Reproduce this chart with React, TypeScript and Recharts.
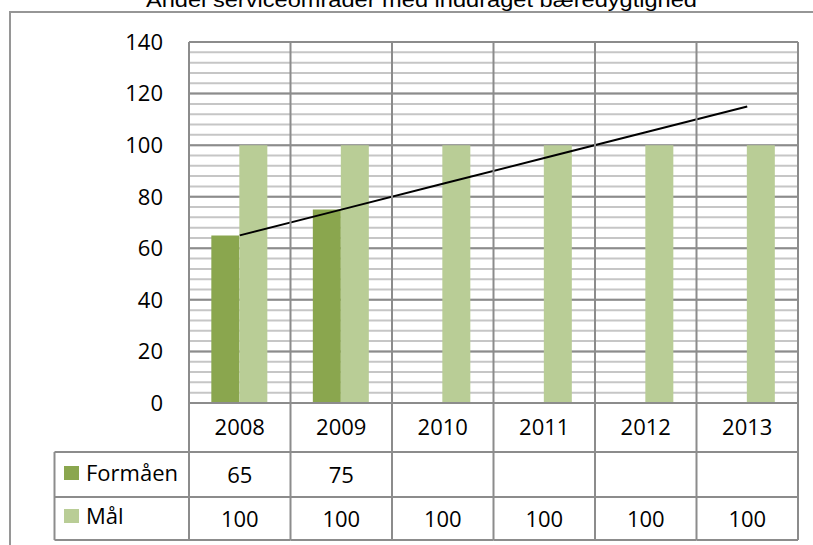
import { ComposedChart, Bar, Line, XAxis, YAxis, CartesianGrid } from "recharts";

// data
const years = ["2008", "2009", "2010", "2011", "2012", "2013"];
const formaen = [65, 75, null, null, null, null];
const maal = [100, 100, 100, 100, 100, 100];
const trend = [65, 75, 85, 95, 105, 115];
const majorTicks = [0, 20, 40, 60, 80, 100, 120, 140];
const minorTicks = [0, 4, 8, 12, 16, 20, 24, 28, 32, 36, 40, 44, 48, 52, 56, 60, 64, 68, 72, 76, 80, 84, 88, 92, 96, 100, 104, 108, 112, 116, 120, 124, 128, 132, 136, 140];

const title = "Andel serviceområder med inddraget bæredygtighed";

const W = 813;
const H = 545;
const PLOT_LEFT = 189;
const PLOT_RIGHT = 15;
const PLOT_TOP = 42;
const AXIS_H = 142;
const ROW1 = 452;
const ROW2 = 497;
const ROW3 = 540;
const LABEL_LEFT = 54.5;
const BAND = (W - PLOT_LEFT - PLOT_RIGHT) / years.length;
const Y_MAX = 140;

const DARK = "#8aa64e";
const LIGHT = "#b9cd96";
const GRID_DARK = "#8c8c8c";
const GRID_LIGHT = "#c6c6c6";
const FONT = "'Open Sans', sans-serif";

const data = years.map((y, i) => ({
  year: y,
  formaen: formaen[i],
  maal: maal[i],
  trend: trend[i],
}));

const txt = { fontFamily: FONT, fontSize: 22, fill: "#000" };

// minor grid rows, placed through the y axis scale when it is handed over
const minorRows = ({ yAxis, offset }: any) =>
  minorTicks.map((v) =>
    yAxis && typeof yAxis.scale === "function"
      ? yAxis.scale(v)
      : offset.top + offset.height * (1 - v / Y_MAX)
  );

function TableTick(props: any) {
  const { x, payload, index } = props;
  const half = payload?.offset || BAND / 2;
  const left = x - half;
  const right = x + half;
  const last = index === years.length - 1;
  const hl = (y: number, x1: number, x2: number) => (
    <line x1={x1} y1={y} x2={x2} y2={y} stroke={GRID_DARK} strokeWidth={2} />
  );
  return (
    <g>
      <line x1={left} y1={PLOT_TOP} x2={left} y2={ROW3} stroke={GRID_DARK} strokeWidth={2} />
      {last && <line x1={right} y1={PLOT_TOP} x2={right} y2={ROW3} stroke={GRID_DARK} strokeWidth={2} />}
      {hl(ROW1, left, right)}
      {hl(ROW2, left, right)}
      {hl(ROW3, left, right)}
      <text x={x} y={435} textAnchor="middle" {...txt}>{payload.value}</text>
      <text x={x} y={483} textAnchor="middle" {...txt}>{formaen[index] ?? ""}</text>
      <text x={x} y={527} textAnchor="middle" {...txt}>{maal[index] ?? ""}</text>
      {index === 0 && (
        <g>
          <line x1={LABEL_LEFT} y1={ROW1} x2={LABEL_LEFT} y2={ROW3} stroke={GRID_DARK} strokeWidth={2} />
          {hl(ROW1, LABEL_LEFT, left)}
          {hl(ROW2, LABEL_LEFT, left)}
          {hl(ROW3, LABEL_LEFT, left)}
          <rect x={64} y={466} width={15} height={14} fill={DARK} />
          <text x={86} y={481} {...txt}>Formåen</text>
          <rect x={64} y={509} width={15} height={14} fill={LIGHT} />
          <text x={86} y={524} {...txt}>Mål</text>
        </g>
      )}
    </g>
  );
}

export default function App() {
  return (
    <div style={{ position: "fixed", left: 0, top: 0, width: W, height: H, overflow: "hidden", background: "#fff" }}>
      <svg width={W} height={H} style={{ position: "absolute", left: 0, top: 0 }}>
        <rect x={10} y={12} width={1000} height={1000} fill="#fff" stroke="#969696" strokeWidth={2} />
        <text x={146} y={7} textLength={551} lengthAdjust="spacingAndGlyphs" fontFamily="'Liberation Sans', Arial, sans-serif" fontSize={20} fill="#000">
          {title}
        </text>
      </svg>
      <div style={{ position: "absolute", left: 0, top: 0 }}>
        <ComposedChart
          width={W}
          height={H}
          data={data}
          margin={{ top: PLOT_TOP, right: PLOT_RIGHT, bottom: 0, left: 0 }}
          barGap={0}
          barCategoryGap="22%"
        >
          <CartesianGrid vertical={false} stroke={GRID_LIGHT} strokeWidth={2} horizontalCoordinatesGenerator={minorRows} />
          <CartesianGrid vertical={false} stroke={GRID_DARK} strokeWidth={2} />
          <YAxis
            domain={[0, Y_MAX]}
            ticks={majorTicks}
            width={PLOT_LEFT}
            axisLine={false}
            tickLine={false}
            tickSize={0}
            tickMargin={26}
            tick={{ ...txt }}
            interval={0}
          />
          <XAxis
            dataKey="year"
            height={AXIS_H}
            axisLine={{ stroke: GRID_DARK, strokeWidth: 2 }}
            tickLine={false}
            tick={<TableTick />}
            interval={0}
          />
          <Bar dataKey="formaen" fill={DARK} isAnimationActive={false} />
          <Bar dataKey="maal" fill={LIGHT} isAnimationActive={false} />
          <Line dataKey="trend" stroke="#000" strokeWidth={2} dot={false} isAnimationActive={false} />
        </ComposedChart>
      </div>
    </div>
  );
}
